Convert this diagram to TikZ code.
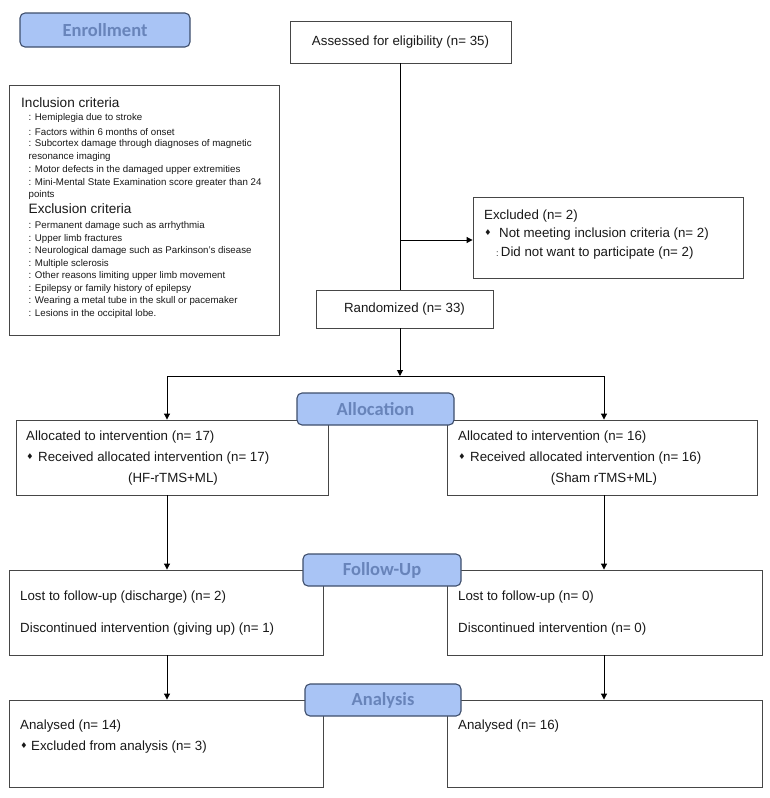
\documentclass[tikz,border=0pt]{standalone}
\usepackage{fontspec}
\setmainfont{Liberation Sans}
\newfontfamily\labfont{Carlito}
\newfontfamily\symfont{DejaVu Sans}
\usetikzlibrary{arrows.meta}
\definecolor{stagefill}{RGB}{169,196,245}
\definecolor{stageline}{RGB}{62,78,108}
\definecolor{stagetext}{RGB}{104,132,186}
\definecolor{boxline}{RGB}{70,70,70}
\definecolor{textcol}{RGB}{25,25,25}
\newcommand{\bul}{{\symfont\fontsize{8}{9}\selectfont ♦}}
\tikzset{
  box/.style={draw=boxline, line width=0.9pt, fill=white, inner sep=0pt, anchor=center},
  stage/.style={draw=stageline, fill=stagefill, rounded corners=5pt, line width=1.1pt,
    text=stagetext, font=\labfont\bfseries\fontsize{18.5}{20}\selectfont, inner sep=0pt, anchor=center},
  txt/.style={anchor=west, inner sep=0pt, text=textcol, font=\fontsize{13.3}{16}\selectfont},
  ctxt/.style={anchor=center, inner sep=0pt, text=textcol, font=\fontsize{13.3}{16}\selectfont},
  smalltxt/.style={anchor=west, inner sep=0pt, text=textcol, font=\fontsize{9.7}{12}\selectfont},
  bultxt/.style={anchor=center, inner sep=0pt, text=textcol},
  conn/.style={draw=black, line width=1pt},
  arr/.style={conn, -{Triangle[length=6pt,width=6pt]}}
}
\begin{document}
\begin{tikzpicture}[x=1pt,y=-1pt]
\useasboundingbox (0,0) rectangle (770,798);

% ---- boxes
\node[box, minimum width=221pt, minimum height=42pt] (assess) at (400.5,42) {};
\node[box, minimum width=270pt, minimum height=250pt] (crit) at (144,210) {};
\node[box, minimum width=270pt, minimum height=81pt] (excl) at (608,237.5) {};
\node[box, minimum width=177pt, minimum height=38pt] (rand) at (404.5,309) {};
\node[box, minimum width=312pt, minimum height=75pt] (allocL) at (172,457.5) {};
\node[box, minimum width=310pt, minimum height=75pt] (allocR) at (602,457.5) {};
\node[box, minimum width=314pt, minimum height=85pt] (fuL) at (166,612.5) {};
\node[box, minimum width=315pt, minimum height=85pt] (fuR) at (604.5,612.5) {};
\node[box, minimum width=314pt, minimum height=87pt] (anL) at (166,743.5) {};
\node[box, minimum width=315pt, minimum height=87pt] (anR) at (604.5,743.5) {};

% ---- stage labels
\node[stage, minimum width=170pt, minimum height=34pt] (enroll) at (105,30) {Enrollment};
\node[stage, minimum width=157pt, minimum height=32pt] (alloc) at (375.5,409) {Allocation};
\node[stage, minimum width=158pt, minimum height=32pt] (follow) at (382,570) {Follow-Up};
\node[stage, minimum width=156pt, minimum height=32pt] (anal) at (383,700) {Analysis};

% ---- texts
\node[ctxt] (assessT) at (assess.center) {Assessed for eligibility (n= 35)};
\node[ctxt] (randT) at (rand.center) {Randomized (n= 33)};

\node[txt, font=\fontsize{13.6}{16}\selectfont] (incH) at (21,103) {Inclusion criteria};
\foreach \y/\t [count=\i] in {118/{: Hemiplegia due to stroke},
  132/{: Factors within 6 months of onset},
  144/{: Subcortex damage through diagnoses of magnetic},
  157/{resonance imaging},
  170/{: Motor defects in the damaged upper extremities},
  183/{: Mini-Mental State Examination score greater than 24},
  195/{points}}
  \node[smalltxt] (inc\i) at (28.5,\y) {\t};
\node[txt, font=\fontsize{13.6}{16}\selectfont] (excH) at (28.5,209) {Exclusion criteria};
\foreach \y/\t [count=\i] in {226/{: Permanent damage such as arrhythmia},
  238.5/{: Upper limb fractures},
  251/{: Neurological damage such as Parkinson's disease},
  263.5/{: Multiple sclerosis},
  276/{: Other reasons limiting upper limb movement},
  288.5/{: Epilepsy or family history of epilepsy},
  301/{: Wearing a metal tube in the skull or pacemaker},
  313.5/{: Lesions in the occipital lobe.}}
  \node[smalltxt] (exc\i) at (28.5,\y) {\t};

\node[txt] (exT1) at (484,216) {Excluded (n= 2)};
\node[bultxt] (exB) at (488,232.5) {\bul};
\node[txt] (exT2) at (499,234) {Not meeting inclusion criteria (n= 2)};
\node[txt] (exT3) at (496,253) {{\fontsize{9}{10}\selectfont :}\,Did not want to participate (n= 2)};

\node[txt] (aLT1) at (26,437.5) {Allocated to intervention (n= 17)};
\node[bultxt] (aLB) at (30,457) {\bul};
\node[txt] (aLT2) at (38,458.5) {Received allocated intervention (n= 17)};
\node[ctxt] (aLT3) at (173,479.5) {(HF-rTMS+ML)};

\node[txt] (aRT1) at (458,437.5) {Allocated to intervention (n= 16)};
\node[bultxt] (aRB) at (462,457) {\bul};
\node[txt] (aRT2) at (470,458.5) {Received allocated intervention (n= 16)};
\node[ctxt] (aRT3) at (604,479.5) {(Sham rTMS+ML)};

\node[txt] (fLT1) at (20,597) {Lost to follow-up (discharge) (n= 2)};
\node[txt] (fLT2) at (20,629) {Discontinued intervention (giving up) (n= 1)};
\node[txt] (fRT1) at (458,597) {Lost to follow-up (n= 0)};
\node[txt] (fRT2) at (458,629) {Discontinued intervention (n= 0)};

\node[txt] (nLT1) at (20,726) {Analysed (n= 14)};
\node[bultxt] (nLB) at (24,746) {\bul};
\node[txt] (nLT2) at (31,747.5) {Excluded from analysis (n= 3)};
\node[txt] (nRT1) at (458,726) {Analysed (n= 16)};

% ---- connectors
\coordinate (branch) at (400,240);
\coordinate (split) at (400,376);
\coordinate (sl) at (167,376);
\coordinate (sr) at (604,376);
\draw[conn] (assess.south -| branch) -- (rand.north -| branch);
\draw[arr] (branch) -- (excl.west |- branch);
\draw[arr] (rand.south -| split) -- (split);
\draw[conn] (sl) -- (sr);
\draw[arr] (sl) -- (allocL.north -| sl);
\draw[arr] (sr) -- (allocR.north -| sr);
\draw[arr] (allocL.south -| sl) -- (fuL.north -| sl);
\draw[arr] (allocR.south -| sr) -- (fuR.north -| sr);
\draw[arr] (fuL.south -| sl) -- (anL.north -| sl);
\draw[arr] (fuR.south -| sr) -- (anR.north -| sr);
\end{tikzpicture}
\end{document}
